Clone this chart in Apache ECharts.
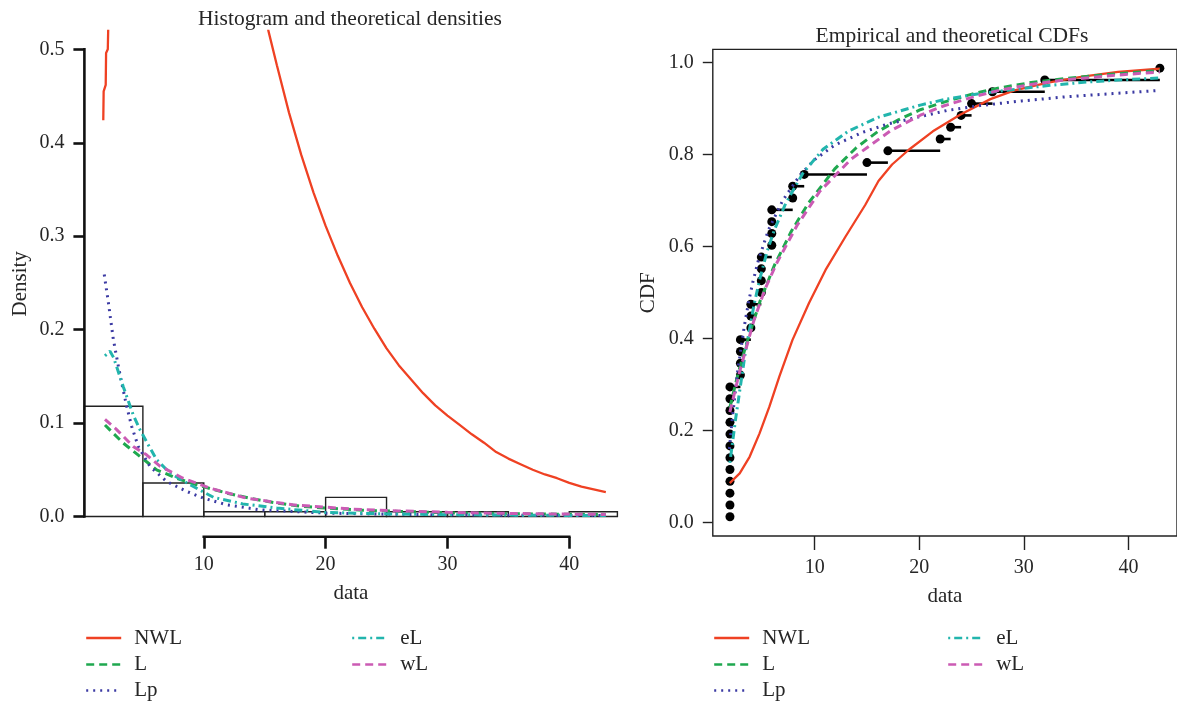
<!DOCTYPE html>
<html>
<head>
<meta charset="utf-8">
<script src="https://cdn.jsdelivr.net/npm/echarts@6/dist/echarts.min.js"></script>
<style>
  html, body { margin: 0; padding: 0; background: #ffffff; }
  #chart { width: 1177px; height: 707px; }
</style>
</head>
<body>
<div id="chart"></div>
<script>
// ---- observed sample (sorted) ----
const obsValues = [
  1.9, 1.9, 1.9, 1.9, 1.9, 1.9, 1.9, 1.9, 1.9, 1.9, 1.9, 1.9,
  2.9, 2.9, 2.9, 2.9,
  3.9, 3.9, 3.9,
  4.9, 4.9, 4.9, 4.9,
  5.9, 5.9, 5.9, 5.9,
  7.9, 7.9,
  9.0, 15, 17, 22, 23, 24, 25, 27, 32, 43
];
const histBreaks = [0, 5, 10, 15, 20, 25, 30, 35, 40, 45];

// ---- tick labels ----
const densXTicks = [10, 20, 30, 40];
const densYTicks = [0, 0.1, 0.2, 0.3, 0.4, 0.5];
const cdfXTicks = [10, 20, 30, 40];
const cdfYTicks = [0, 0.2, 0.4, 0.6, 0.8, 1.0];

// legend rows: [left column, right column]
const legendRows = [['NWL', 'eL'], ['L', 'wL'], ['Lp', null]];

// ---- fitted densities [x, f(x)] ----
const densNWL = [
  [1.75, 0.424], [1.78, 0.455], [1.95, 0.462], [1.98, 0.496], [2.12, 0.50], [2.16, 0.525], [2.3, 0.62],
  [15.0, 0.58], [15.3, 0.52], [16, 0.483], [17, 0.432], [18, 0.387], [19, 0.347], [20, 0.311],
  [21, 0.279], [22, 0.250], [23, 0.224], [24, 0.201], [25, 0.180], [26, 0.162], [27, 0.147],
  [28, 0.132], [29, 0.119], [30, 0.108], [31, 0.098], [32, 0.088], [33, 0.079], [34, 0.069],
  [35, 0.062], [36, 0.056], [37, 0.050], [38, 0.045], [39, 0.041], [40, 0.036], [41, 0.032],
  [42, 0.029], [43, 0.026]
];
const densL = [
  [1.89, 0.098], [2.57, 0.089], [3.39, 0.0786], [4.76, 0.0643], [6.13, 0.050], [7.77, 0.041],
  [9.4, 0.034], [11.9, 0.025], [14, 0.019], [16, 0.0143], [18, 0.011], [20.1, 0.009], [23, 0.0068],
  [26, 0.0055], [30, 0.004], [35, 0.003], [39, 0.0025], [43, 0.002]
];
const densLp = [
  [1.83, 0.259], [2.2, 0.226], [2.57, 0.19], [3.0, 0.16], [3.26, 0.143], [3.67, 0.118], [4.08, 0.0965],
  [4.62, 0.075], [5.58, 0.0536], [6.95, 0.0375], [8.6, 0.0268], [9.96, 0.0197], [11.9, 0.0125],
  [14.6, 0.0072], [20.1, 0.0036], [25, 0.0025], [30, 0.0018], [35, 0.0014], [43, 0.001]
];
const densEL = [
  [1.89, 0.172], [2.3, 0.177], [2.6, 0.17], [3.39, 0.139], [4.2, 0.109], [4.76, 0.093], [5.44, 0.0768],
  [6.13, 0.0608], [7.22, 0.0465], [8.87, 0.034], [10.8, 0.0205], [13.2, 0.0135], [16, 0.009],
  [20.1, 0.0043], [25, 0.0028], [30, 0.002], [35, 0.0015], [43, 0.001]
];
const densWL = [
  [1.89, 0.104], [2.85, 0.093], [4.2, 0.075], [5.3, 0.066], [6.4, 0.054], [8.3, 0.041], [10.5, 0.0304],
  [13.5, 0.0197], [17.3, 0.0125], [22.3, 0.0079], [26, 0.006], [30, 0.0045], [35, 0.0033],
  [39, 0.0027], [43, 0.0022]
];

// ---- fitted CDFs [x, F(x)] ----
const cdfNWL = [
  [1.88, 0.086], [2.83, 0.107], [3.78, 0.143], [4.73, 0.194], [5.67, 0.252], [6.62, 0.317],
  [7.88, 0.397], [9.46, 0.477], [11.04, 0.549], [12.94, 0.621], [14.83, 0.69], [16.1, 0.742],
  [17.4, 0.778], [19.0, 0.810], [21.3, 0.850], [23.9, 0.886], [26.8, 0.920], [29.1, 0.939],
  [32.3, 0.956], [35.6, 0.969], [39, 0.979], [43, 0.986]
];
const cdfL = [
  [1.89, 0.25], [2.57, 0.314], [3.39, 0.382], [4.76, 0.48], [6.13, 0.558], [7.77, 0.633],
  [9.4, 0.694], [11.9, 0.768], [14, 0.815], [16, 0.849], [18, 0.875], [20.1, 0.897], [22.6, 0.915],
  [25.2, 0.932], [27.8, 0.945], [30.7, 0.956], [34, 0.965], [38.8, 0.975], [43, 0.982]
];
const cdfLp = [
  [1.85, 0.16], [2.05, 0.21], [2.3, 0.262], [2.57, 0.318], [3.0, 0.385], [3.26, 0.425], [3.67, 0.478],
  [4.08, 0.522], [4.62, 0.57], [5.58, 0.636], [6.95, 0.70], [8.6, 0.755], [9.96, 0.788], [11.9, 0.82],
  [14.6, 0.848], [17, 0.866], [20.1, 0.882], [22.6, 0.895], [25.8, 0.906], [29.8, 0.916],
  [34, 0.925], [38.5, 0.932], [43, 0.939]
];
const cdfEL = [
  [1.89, 0.13], [2.44, 0.225], [3.39, 0.373], [4.2, 0.473], [4.76, 0.53], [5.44, 0.588], [6.13, 0.635],
  [7.22, 0.693], [8.87, 0.759], [10.8, 0.811], [13.2, 0.85], [16, 0.88], [20.1, 0.907], [22.6, 0.92],
  [25.8, 0.932], [29.1, 0.941], [32.5, 0.95], [36, 0.957], [39.5, 0.962], [43, 0.966]
];
const cdfWL = [
  [1.89, 0.24], [2.85, 0.33], [4.2, 0.44], [5.3, 0.51], [6.4, 0.565], [8.3, 0.645], [10.5, 0.72],
  [13.5, 0.79], [17.3, 0.852], [20.1, 0.885], [22.3, 0.905], [25.2, 0.925], [27.8, 0.94],
  [30.7, 0.952], [34, 0.962], [38.8, 0.972], [43, 0.979]
];

// ---- derived: histogram (right-closed bins) and empirical CDF ----
const nObs = obsValues.length;
const histBins = histBreaks.slice(0, -1).map((lo, k) => {
  const hi = histBreaks[k + 1];
  const count = obsValues.filter(v => (k === 0 ? v >= lo : v > lo) && v <= hi).length;
  return [lo, hi, count / (nObs * (hi - lo))];
});
const ecdfPoints = obsValues.map((v, i) => [v, (i + 0.5) / nObs]);
const ecdfSteps = obsValues.slice(0, -1).map((v, i) => [v, (i + 0.5) / nObs, obsValues[i + 1]]);

// ---- styling ----
const FONT = "'Liberation Serif', 'DejaVu Serif', serif";
const TXT = '#262626';
const INK = '#111111';
const colors = { NWL: '#ef4123', L: '#1fa84f', Lp: '#3b3aa3', eL: '#22b5ad', wL: '#cb5bb4' };
const dashes = { NWL: 'solid', L: [8, 5], Lp: [2, 5], eL: [2, 4, 8, 4], wL: [8, 5] };
const widths = { NWL: 2.3, L: 3, Lp: 3, eL: 3, wL: 3 };

const DENS_X = [0.2, 43.95];
const DENS_Y = [-0.0216, 0.5196];
const CDF_X = [0.26, 44.64];
const CDF_Y = [-0.029, 1.028];

function curve(name, data, axisIdx) {
  return {
    type: 'line', name, data, xAxisIndex: axisIdx, yAxisIndex: axisIdx,
    symbol: 'none', smooth: false, clip: true, silent: true,
    lineStyle: { color: colors[name], width: widths[name], type: dashes[name] },
    itemStyle: { color: colors[name] }
  };
}

const chart = echarts.init(document.getElementById('chart'), null, { renderer: 'canvas' });

const axisLabelStyle = { fontFamily: FONT, fontSize: 20, color: TXT };
const nameStyle = { fontFamily: FONT, fontSize: 21, color: TXT };
const titleStyle = { fontFamily: FONT, fontSize: 21.5, fontWeight: 'normal', color: TXT };

// one legend per row and column so every block stays a single line
const legendLefts = [[85, 351], [713, 947]];
const legendTops = [627.5, 654, 680];
const legends = [];
legendLefts.forEach(cols => {
  legendRows.forEach((row, r) => {
    row.forEach((name, c) => {
      if (!name) return;
      legends.push({
        data: [name], left: cols[c], top: legendTops[r], orient: 'horizontal', padding: 0,
        itemWidth: 35, itemHeight: 14, selectedMode: false,
        lineStyle: { width: 2.4 },
        itemStyle: { color: 'transparent', borderColor: 'transparent', borderWidth: 0 },
        textStyle: { fontFamily: FONT, fontSize: 21, color: TXT, padding: [0, 0, 0, 8] }
      });
    });
  });
});

const option = {
  animation: false,
  backgroundColor: '#ffffff',
  title: [
    { text: 'Histogram and theoretical densities', left: 345, top: 3, textAlign: 'center', textStyle: titleStyle },
    { text: 'Empirical and theoretical CDFs', left: 947, top: 20, textAlign: 'center', textStyle: titleStyle }
  ],
  legend: legends,
  grid: [
    { left: 84.4, top: 31, width: 533, height: 505.7, show: false },
    { left: 712.8, top: 49.4, width: 468.7, height: 486.6, show: true,
      borderColor: '#222', borderWidth: 1.4, backgroundColor: 'transparent' }
  ],
  xAxis: [
    { type: 'value', gridIndex: 0, min: DENS_X[0], max: DENS_X[1],
      name: 'data', nameLocation: 'middle', nameGap: 46, nameTextStyle: nameStyle,
      axisLine: { show: false, onZero: false }, splitLine: { show: false },
      axisTick: { show: true, length: 12, customValues: densXTicks, lineStyle: { color: INK, width: 2.6 } },
      axisLabel: { show: true, margin: 18, customValues: densXTicks, formatter: v => String(Math.round(v)), ...axisLabelStyle } },
    { type: 'value', gridIndex: 1, min: CDF_X[0], max: CDF_X[1],
      name: 'data', nameLocation: 'middle', nameGap: 50, nameTextStyle: nameStyle,
      axisLine: { show: false, onZero: false }, splitLine: { show: false },
      axisTick: { show: true, length: 14, customValues: cdfXTicks, lineStyle: { color: '#222', width: 1.4 } },
      axisLabel: { show: true, margin: 22, customValues: cdfXTicks, formatter: v => String(Math.round(v)), ...axisLabelStyle } }
  ],
  yAxis: [
    { type: 'value', gridIndex: 0, min: DENS_Y[0], max: DENS_Y[1],
      name: 'Density', nameLocation: 'middle', nameGap: 53, nameTextStyle: nameStyle,
      axisLine: { show: false, onZero: false }, splitLine: { show: false },
      axisTick: { show: true, length: 11, customValues: densYTicks, lineStyle: { color: INK, width: 2.6 } },
      axisLabel: { show: true, margin: 20, customValues: densYTicks, formatter: v => v.toFixed(1), ...axisLabelStyle } },
    { type: 'value', gridIndex: 1, min: CDF_Y[0], max: CDF_Y[1],
      name: 'CDF', nameLocation: 'middle', nameGap: 54, nameTextStyle: nameStyle,
      axisLine: { show: false, onZero: false }, splitLine: { show: false },
      axisTick: { show: true, length: 10, customValues: cdfYTicks, lineStyle: { color: '#222', width: 1.4 } },
      axisLabel: { show: true, margin: 19, customValues: cdfYTicks, formatter: v => v.toFixed(1), ...axisLabelStyle } }
  ],
  series: [
    // histogram bars (outline only)
    {
      type: 'custom', name: 'histogram', xAxisIndex: 0, yAxisIndex: 0, silent: true, z: 1,
      data: histBins, encode: { x: [0, 1], y: 2 },
      renderItem(params, api) {
        const lo = Math.max(api.value(0), DENS_X[0]);
        const hi = Math.min(api.value(1), DENS_X[1]);
        const p0 = api.coord([lo, api.value(2)]);
        const p1 = api.coord([hi, 0]);
        return {
          type: 'rect',
          shape: { x: p0[0], y: p0[1], width: p1[0] - p0[0], height: p1[1] - p0[1] },
          style: { fill: 'transparent', stroke: '#222', lineWidth: 1.4 }
        };
      }
    },
    // detached axis lines spanning the first..last tick of the density panel
    {
      type: 'custom', name: 'densityAxes', xAxisIndex: 0, yAxisIndex: 0, silent: true, z: 3,
      data: [[DENS_X[0], DENS_Y[0]]],
      renderItem(params, api) {
        const yA = api.coord([DENS_X[0], densYTicks[0]]);
        const yB = api.coord([DENS_X[0], densYTicks[densYTicks.length - 1]]);
        const xA = api.coord([densXTicks[0], DENS_Y[0]]);
        const xB = api.coord([densXTicks[densXTicks.length - 1], DENS_Y[0]]);
        return {
          type: 'group',
          children: [
            { type: 'line', shape: { x1: yA[0], y1: yA[1] + 1.3, x2: yB[0], y2: yB[1] - 1.3 },
              style: { stroke: INK, lineWidth: 2.6 } },
            { type: 'line', shape: { x1: xA[0] - 1.3, y1: xA[1], x2: xB[0] + 1.3, y2: xB[1] },
              style: { stroke: INK, lineWidth: 2.6 } }
          ]
        };
      }
    },
    curve('NWL', densNWL, 0),
    curve('L', densL, 0),
    curve('Lp', densLp, 0),
    curve('eL', densEL, 0),
    curve('wL', densWL, 0),

    // empirical CDF: horizontal steps and points
    {
      type: 'custom', name: 'ecdfSteps', xAxisIndex: 1, yAxisIndex: 1, silent: true, z: 1,
      data: ecdfSteps, encode: { x: [0, 2], y: 1 },
      renderItem(params, api) {
        const a = api.coord([api.value(0), api.value(1)]);
        const b = api.coord([api.value(2), api.value(1)]);
        return { type: 'line', shape: { x1: a[0], y1: a[1], x2: b[0], y2: b[1] },
                 style: { stroke: '#000', lineWidth: 2.6 } };
      }
    },
    {
      type: 'scatter', name: 'ecdfPoints', xAxisIndex: 1, yAxisIndex: 1, silent: true, z: 1,
      data: ecdfPoints, symbol: 'circle', symbolSize: 9,
      itemStyle: { color: '#000', opacity: 1 }
    },
    curve('NWL', cdfNWL, 1),
    curve('L', cdfL, 1),
    curve('Lp', cdfLp, 1),
    curve('eL', cdfEL, 1),
    curve('wL', cdfWL, 1)
  ]
};

chart.setOption(option);
</script>
</body>
</html>
